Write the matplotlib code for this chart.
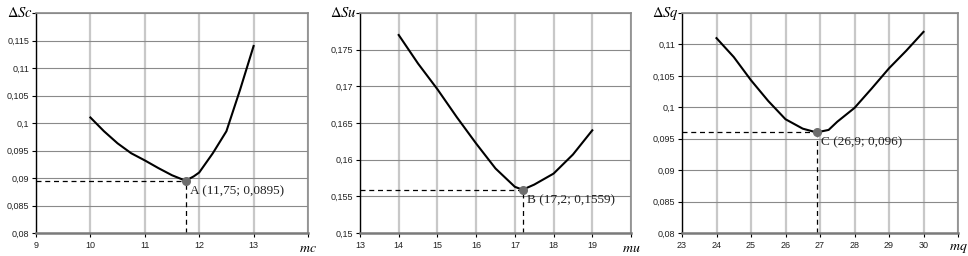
import matplotlib
matplotlib.use("Agg")
import matplotlib.pyplot as plt
from matplotlib.ticker import FuncFormatter, MultipleLocator

plt.rcParams["mathtext.fontset"] = "stix"
plt.rcParams["font.family"] = ["Liberation Sans", "DejaVu Sans"]

# ---- data ----
mc = [10, 10.25, 10.5, 10.75, 11, 11.25, 11.5, 11.75, 11.9, 12, 12.25, 12.5, 12.75, 13]
dSc = [0.101, 0.0985, 0.0963, 0.0945, 0.0932, 0.0918, 0.0905, 0.0895, 0.0903, 0.091, 0.0945, 0.0985, 0.106, 0.114]

mu = [14, 14.5, 15, 15.5, 16, 16.5, 17, 17.2, 17.5, 18, 18.5, 19]
dSu = [0.177, 0.1731, 0.1696, 0.1658, 0.1622, 0.1588, 0.1563, 0.1559, 0.1566, 0.1581, 0.1607, 0.164]

mq = [24, 24.5, 25, 25.5, 26, 26.5, 26.9, 27.25, 27.5, 28, 28.5, 29, 29.5, 30]
dSq = [0.111, 0.108, 0.1043, 0.101, 0.0981, 0.0966, 0.096, 0.0964, 0.0977, 0.0999, 0.103, 0.1062, 0.109, 0.112]

opt_points = [(11.75, 0.0895), (17.2, 0.1559), (26.9, 0.096)]
opt_labels = ["A (11,75; 0,0895)", "B (17,2; 0,1559)", "C (26,9; 0,096)"]
y_labels = [r"$\Delta Sc$", r"$\Delta Su$", r"$\Delta Sq$"]
x_labels = [r"$mc$", r"$mu$", r"$mq$"]
xlims = [(9, 14), (13, 20), (23, 31)]
ylims = [(0.08, 0.12), (0.15, 0.18), (0.08, 0.115)]

W, H = 968, 256
fig = plt.figure(figsize=(W / 100, H / 100), dpi=100)
boxes = [(36, 13, 308, 233), (360, 13, 631, 233), (682, 13, 958, 233)]

series = [(mc, dSc), (mu, dSu), (mq, dSq)]
for i, (x0, y0, x1, y1) in enumerate(boxes):
    ax = fig.add_axes([x0 / W, 1 - y1 / H, (x1 - x0) / W, (y1 - y0) / H])
    xs, ys = series[i]
    xl, yl = xlims[i], ylims[i]
    ax.set_xlim(*xl)
    ax.set_ylim(*yl)
    ax.xaxis.set_major_locator(MultipleLocator(1))
    ax.yaxis.set_major_locator(MultipleLocator(0.005))

    def yfmt(v, pos, top=yl[1]):
        if abs(v - top) < 1e-9:
            return ""
        s = ("%.3f" % v).rstrip("0").rstrip(".")
        return s.replace(".", ",")

    def xfmt(v, pos, right=xl[1]):
        if abs(v - right) < 1e-9:
            return ""
        return "%d" % round(v)

    ax.yaxis.set_major_formatter(FuncFormatter(yfmt))
    ax.xaxis.set_major_formatter(FuncFormatter(xfmt))
    ax.grid(axis="x", color="#c8c8c8", lw=1.6)
    ax.grid(axis="y", color="#8a8a8a", lw=0.8)
    ax.set_axisbelow(True)
    for s in ["top", "right"]:
        ax.spines[s].set_color("#8a8a8a")
        ax.spines[s].set_linewidth(1.2)
    ax.spines["bottom"].set_color("#7a7a7a")
    ax.spines["bottom"].set_linewidth(1.8)
    ax.spines["left"].set_color("black")
    ax.spines["left"].set_linewidth(1.0)
    ax.tick_params(labelsize=6.5, length=3, width=0.8, color="black", pad=2,
                   labelcolor="#222222")
    ax.tick_params(axis="x", pad=3)
    ax.plot(xs, ys, color="black", lw=1.5, zorder=3)
    px, py = opt_points[i]
    ax.plot([xl[0], px], [py, py], color="black", lw=0.9, ls=(0, (4, 3)), zorder=2)
    ax.plot([px, px], [yl[0], py], color="black", lw=0.9, ls=(0, (4, 3)), zorder=2)
    ax.plot([px], [py], "o", color="#6e6e6e", ms=5.5, zorder=4)
    ax.annotate(opt_labels[i], (px, py), xytext=(3, -3), textcoords="offset points",
                ha="left", va="top",
                fontsize=9.5, family="Liberation Serif", color="#222222")
    ax.text(-0.01, 1.0, y_labels[i], transform=ax.transAxes, ha="right", va="center",
            fontsize=10.5)
    ax.text(1.0, -0.035, x_labels[i], transform=ax.transAxes, ha="center", va="top",
            fontsize=10)

fig.savefig("out.png", dpi=100, facecolor="white")
